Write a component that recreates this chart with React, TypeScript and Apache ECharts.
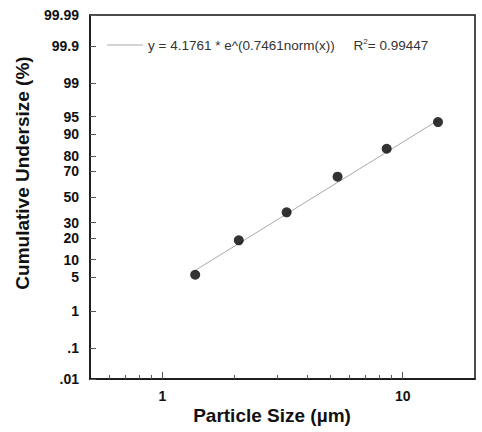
import { useEffect, useRef } from 'react';
import * as echarts from 'echarts';

// particle size (µm) and cumulative undersize (%)
const sizes = [1.37, 2.08, 3.29, 5.36, 8.58, 14.03];
const undersize = [5.6, 18.8, 37.7, 66.1, 83.8, 93.7];

// fitted line, read at its two ends
const fitSizes = [1.38, 14.0];
const fitUndersize = [6.8, 94.1];

const yTicks = ['.01', '.1', '1', '5', '10', '20', '30', '50', '70', '80', '90', '95', '99', '99.9', '99.99'];
const xLabels = [1, 10];
const xMinorTicks = [0.6, 0.7, 0.8, 0.9, 2, 3, 4, 5, 6, 7, 8, 9];

const FONT = "'Liberation Sans', Arial, sans-serif";

// inverse normal cdf (Acklam), used for the probability scale
function probit(p: number): number {
    const a = [-39.69683028665376, 220.9460984245205, -275.9285104469687, 138.357751867269, -30.66479806614716, 2.506628277459239];
    const b = [-54.47609879822406, 161.5858368580409, -155.6989798598866, 66.80131188771972, -13.28068155288572];
    const c = [-0.007784894002430293, -0.3223964580411365, -2.400758277161838, -2.549732539343734, 4.374664141464968, 2.938163982698783];
    const d = [0.007784695709041462, 0.3224671290700398, 2.445134137142996, 3.754408661907416];
    const pl = 0.02425;
    if (p < pl) {
        const q = Math.sqrt(-2 * Math.log(p));
        return (((((c[0] * q + c[1]) * q + c[2]) * q + c[3]) * q + c[4]) * q + c[5]) /
            ((((d[0] * q + d[1]) * q + d[2]) * q + d[3]) * q + 1);
    }
    if (p > 1 - pl) {
        const q = Math.sqrt(-2 * Math.log(1 - p));
        return -(((((c[0] * q + c[1]) * q + c[2]) * q + c[3]) * q + c[4]) * q + c[5]) /
            ((((d[0] * q + d[1]) * q + d[2]) * q + d[3]) * q + 1);
    }
    const q = p - 0.5;
    const r = q * q;
    return (((((a[0] * r + a[1]) * r + a[2]) * r + a[3]) * r + a[4]) * r + a[5]) * q /
        (((((b[0] * r + b[1]) * r + b[2]) * r + b[3]) * r + b[4]) * r + 1);
}

const z = (pct: number) => probit(pct / 100);

export default function App() {
    const chartRef = useRef<HTMLDivElement>(null);

    useEffect(() => {
        if (!chartRef.current) return;
        const chart = echarts.init(chartRef.current, undefined, { renderer: 'svg' });

        const tickZ = yTicks.map((t) => z(parseFloat(t)));
        const zMin = tickZ[0];
        const zMax = tickZ[tickZ.length - 1];
        // keep the end ticks just inside the extent
        tickZ[0] = zMin + 1e-6;
        tickZ[tickZ.length - 1] = zMax - 1e-6;
        const yFormatter = (v: number) => {
            let best = 0;
            tickZ.forEach((tz, i) => {
                if (Math.abs(tz - v) < Math.abs(tickZ[best] - v)) best = i;
            });
            return yTicks[best];
        };

        const option: echarts.EChartsOption = {
            animation: false,
            backgroundColor: '#fff',
            grid: {
                left: 90,
                right: 7,
                top: 15,
                bottom: 53,
                show: true,
                borderColor: '#111',
                borderWidth: 1.5,
            },
            legend: {
                data: ['fit'],
                left: 102,
                top: 32,
                itemWidth: 36,
                itemHeight: 1,
                itemGap: 4,
                icon: 'rect',
                formatter: () => '{a|y = 4.1761 * e^(0.7461norm(x))     R}{s|2}{a|= 0.99447}',
                textStyle: {
                    rich: {
                        a: { fontSize: 13.5, color: '#333', fontFamily: FONT },
                        s: { fontSize: 8, color: '#333', fontFamily: FONT, verticalAlign: 'top', padding: [0, 0, 8, 0] },
                    },
                },
            },
            xAxis: [
                {
                    type: 'log',
                    logBase: 10,
                    min: 0.5,
                    max: 20,
                    axisLine: { onZero: false, lineStyle: { color: '#111', width: 1.5 } },
                    axisTick: {
                        inside: true,
                        length: 7,
                        customValues: xLabels,
                        lineStyle: { color: '#555', width: 1 },
                    },
                    axisLabel: {
                        customValues: xLabels,
                        fontSize: 14,
                        fontWeight: 'bold',
                        color: '#111',
                        fontFamily: FONT,
                        margin: 10,
                    },
                    splitLine: { show: false },
                    minorTick: { show: false },
                },
                {
                    type: 'log',
                    logBase: 10,
                    min: 0.5,
                    max: 20,
                    position: 'bottom',
                    axisLine: { show: false, onZero: false },
                    axisTick: {
                        inside: true,
                        length: 4,
                        customValues: xMinorTicks,
                        lineStyle: { color: '#555', width: 1 },
                    },
                    axisLabel: { show: false },
                    splitLine: { show: false },
                },
            ],
            yAxis: {
                type: 'value',
                min: zMin,
                max: zMax,
                axisLine: { show: true, onZero: false, lineStyle: { color: '#111', width: 1.5 } },
                axisTick: {
                    show: true,
                    inside: true,
                    length: 6,
                    customValues: tickZ,
                    lineStyle: { color: '#555', width: 1 },
                },
                axisLabel: {
                    customValues: tickZ,
                    formatter: (v: number) => yFormatter(v),
                    fontSize: 14,
                    fontWeight: 'bold',
                    color: '#111',
                    fontFamily: FONT,
                    margin: 11,
                    showMinLabel: true,
                    showMaxLabel: true,
                },
                splitLine: { show: false },
            },
            graphic: [
                {
                    type: 'text',
                    x: 22,
                    y: 173,
                    rotation: Math.PI / 2,
                    style: {
                        text: 'Cumulative Undersize (%)',
                        fontSize: 19,
                        fontWeight: 'bold',
                        fontFamily: FONT,
                        fill: '#111',
                        align: 'center',
                        verticalAlign: 'middle',
                    },
                },
                {
                    type: 'text',
                    x: 272,
                    y: 415,
                    style: {
                        text: 'Particle Size (µm)',
                        fontSize: 19,
                        fontWeight: 'bold',
                        fontFamily: FONT,
                        fill: '#111',
                        align: 'center',
                        verticalAlign: 'middle',
                    },
                },
            ],
            series: [
                {
                    name: 'fit',
                    type: 'line',
                    data: fitSizes.map((s, i) => [s, z(fitUndersize[i])]),
                    showSymbol: false,
                    symbol: 'none',
                    lineStyle: { color: '#aaa', width: 1 },
                    itemStyle: { color: '#aaa' },
                    z: 2,
                },
                {
                    name: 'data',
                    type: 'scatter',
                    data: sizes.map((s, i) => [s, z(undersize[i])]),
                    symbolSize: 10,
                    itemStyle: { color: '#000' },
                    z: 3,
                },
            ],
        };

        chart.setOption(option);

        return () => {
            chart.dispose();
        };
    }, []);

    return (
        <div
            ref={chartRef}
            style={{ position: 'absolute', left: 0, top: 0, width: '482px', height: '432px' }}
        />
    );
}
